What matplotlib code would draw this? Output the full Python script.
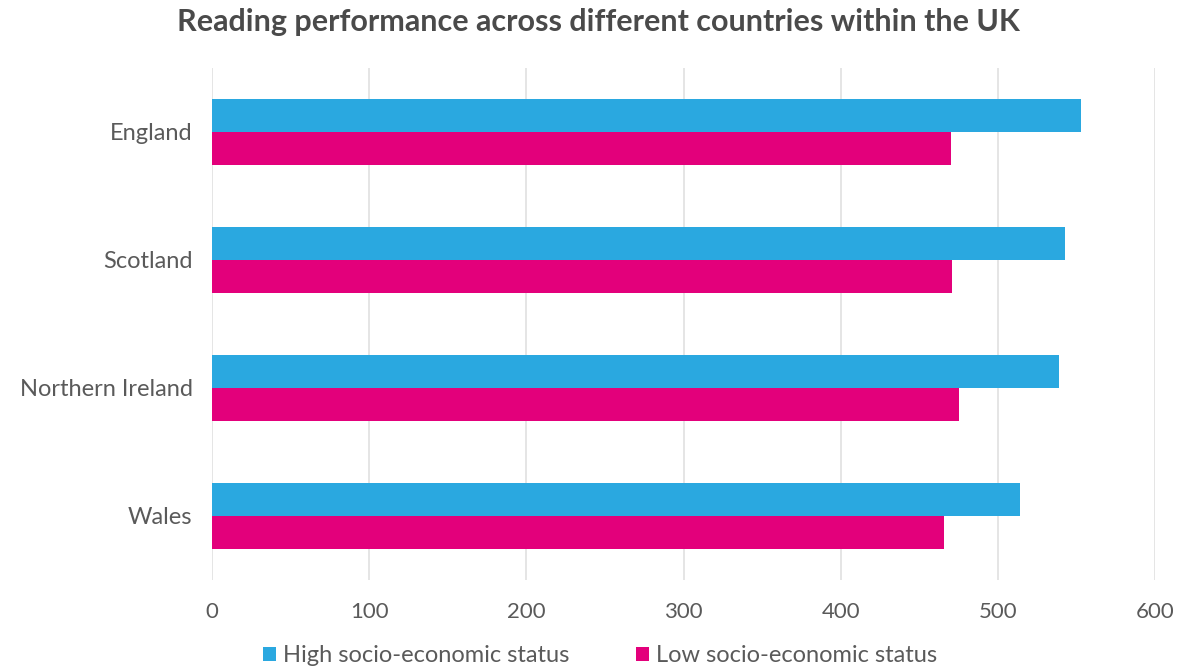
import matplotlib
matplotlib.use("Agg")
import matplotlib.pyplot as plt
import numpy as np

categories = ["England", "Scotland", "Northern Ireland", "Wales"]
high_ses = [553, 543, 539, 514]
low_ses = [470, 471, 475, 466]
series_names = ["High socio-economic status", "Low socio-economic status"]
xticks = [0, 100, 200, 300, 400, 500, 600]

plt.rcParams['font.family'] = ['Lato', 'DejaVu Sans']

W, H = 1179, 670
fig = plt.figure(figsize=(W / 100, H / 100), dpi=100)
ax = fig.add_axes([212 / W, 1 - 580 / H, (1155 - 212) / W, (580 - 68) / H])

c_high = "#2AA8E0"
c_low = "#E3007B"
y = np.arange(len(categories))
h = 0.26
ax.barh(y - h / 2, high_ses, height=h, color=c_high, label=series_names[0], zorder=2)
ax.barh(y + h / 2, low_ses, height=h, color=c_low, label=series_names[1], zorder=2)

ax.set_ylim(len(categories) - 0.5, -0.5)
ax.set_xlim(0, 600)
ax.set_yticks(y)
ax.set_yticklabels(categories, fontsize=17, color="#5A5A5A")
ax.set_xticks(xticks)
ax.set_xticklabels([str(t) for t in xticks], fontsize=16, color="#5A5A5A")
ax.tick_params(axis='both', length=0)
ax.tick_params(axis='x', pad=16)
ax.tick_params(axis='y', pad=14)
ax.xaxis.grid(True, color="#E3E3E3", linewidth=1.3, zorder=0)
for s in ax.spines.values():
    s.set_visible(False)

fig.suptitle("Reading performance across different countries within the UK",
             x=0.508, y=1 - 22 / H, va='center', fontsize=22, fontweight='bold', color="#4A4A4A")

fig.legend(loc='center', bbox_to_anchor=(0.509, 1 - 656 / H), ncol=2, frameon=False,
           fontsize=17, handlelength=0.55, handleheight=0.55, handletextpad=0.3,
           columnspacing=2.8, labelcolor="#5A5A5A")

fig.savefig("out.png", dpi=100)
